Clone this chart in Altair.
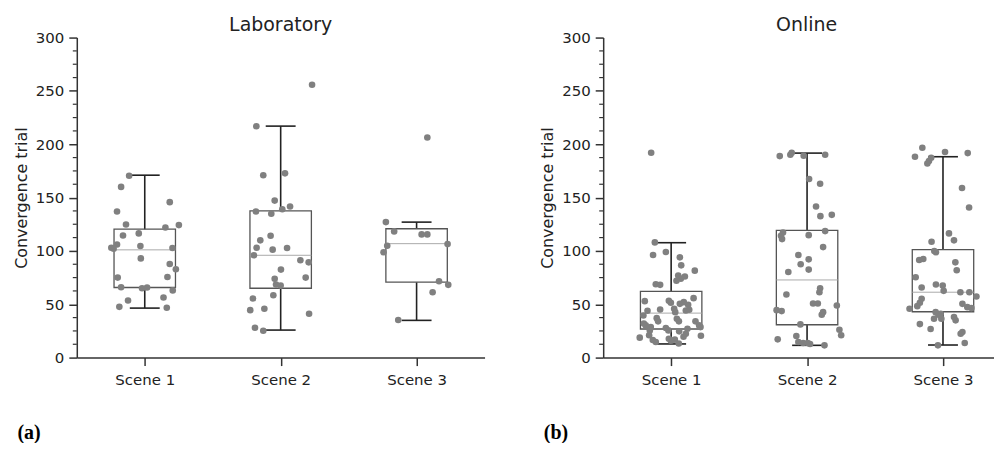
import altair as alt
import pandas as pd

scenes = ["Scene 1", "Scene 2", "Scene 3"]

# ---------------- Laboratory ----------------
lab_s1_values = [170.5, 160, 137, 145.7, 124.8, 124.2, 122, 114.5, 116.4, 103, 102, 106, 104.6, 102.7,
                 93, 87.8, 82.8, 75, 75.6, 66, 65, 65.7, 63, 53.5, 56.3, 47.6, 46.7]
lab_s1_jitter = [-0.115, -0.174, -0.204, 0.184, -0.138, 0.251, 0.152, -0.160, -0.044, -0.246, -0.229,
                 -0.204, -0.032, 0.204, -0.029, 0.184, 0.229, -0.199, 0.167, -0.174, -0.020, 0.017,
                 0.206, -0.123, 0.138, -0.187, 0.162]
lab_s2_values = [255.8, 216.9, 170.9, 172.7, 147.2, 141.6, 139.1, 137, 134.8, 114.2, 109.9, 103, 101.2,
                 102.7, 95.9, 91.2, 89.3, 82.5, 73.8, 75, 68.5, 67.5, 58.5, 55.4, 44.5, 45.8, 41.1, 28, 25.2]
lab_s2_jitter = [0.231, -0.179, -0.128, 0.032, -0.044, 0.069, 0.012, -0.182, -0.069, -0.074, -0.150,
                 -0.177, -0.059, 0.047, -0.197, 0.145, 0.206, 0.002, -0.044, 0.184, -0.034, 0.0,
                 -0.054, -0.204, -0.224, -0.120, 0.209, -0.189, -0.128]
lab_s3_values = [206.3, 127, 118.3, 115.5, 115.5, 104.9, 106.4, 98.7, 71.6, 68.2, 61.3, 35.2]
lab_s3_jitter = [0.079, -0.226, -0.165, 0.037, 0.079, -0.216, 0.228, -0.243, 0.165, 0.233, 0.118, -0.135]

lab_q1 = [65.7, 65.0, 70.7]
lab_median = [101.0, 95.9, 106.8]
lab_q3 = [120.4, 137.6, 120.8]
lab_low = [46.4, 25.8, 34.9]
lab_high = [171.0, 217.0, 127.0]

# ---------------- Online ----------------
onl_s1_values = [192, 108, 96.2, 99, 94, 86.5, 81.5, 77, 76, 74, 72, 68.8, 68.2, 52.9, 53.2, 51.4, 50.4,
                 52, 49.5, 55.7, 45.1, 43.9, 45.8, 42.6, 44.2, 44.8, 39.5, 37, 34, 36.4, 34, 34, 32,
                 30.2, 28.6, 25.5, 27.7, 25.5, 24.6, 27.1, 30.2, 28.6, 18.7, 20.9, 16.5, 14.6, 17.7,
                 15.9, 13.2, 16.8, 19.6, 22.4, 20.5]
onl_s1_jitter = [-0.147, -0.120, -0.133, -0.039, 0.064, 0.074, 0.174, 0.052, 0.101, 0.071, 0.039,
                 -0.113, -0.081, -0.194, -0.017, -0.002, 0.064, 0.093, 0.125, 0.165, -0.081, -0.174,
                 0.022, 0.030, 0.108, 0.133, -0.204, -0.106, -0.096, 0.042, 0.057, 0.179, -0.201,
                 -0.187, -0.150, -0.157, -0.039, -0.020, 0.059, 0.120, 0.206, 0.216, -0.231, -0.162,
                 -0.135, -0.113, -0.017, -0.002, 0.056, 0.027, 0.091, 0.108, 0.219]
onl_s2_values = [188.9, 190.2, 192, 189.2, 190.2, 167.4, 163, 141.6, 132.6, 133.8, 117.3, 114.2, 111.1,
                 114.8, 118.6, 103.6, 96.2, 92.1, 87.5, 82.5, 80.3, 65, 61.3, 59.1, 50.7, 50.7, 48.9,
                 44.5, 43.6, 42.6, 40.2, 31.1, 26.1, 20.9, 17.1, 20.2, 14.6, 13.7, 13.7, 12.8, 11.5]
onl_s2_jitter = [-0.201, -0.123, -0.113, -0.025, 0.133, 0.015, 0.096, 0.066, 0.098, 0.182, -0.177,
                 -0.192, -0.184, 0.012, 0.133, 0.118, -0.064, 0.012, -0.047, 0.012, -0.138, 0.096,
                 0.091, -0.152, 0.044, 0.079, 0.219, -0.224, -0.187, 0.118, 0.108, -0.049, 0.238,
                 0.251, -0.216, -0.079, -0.064, -0.029, 0.005, 0.022, 0.128]
onl_s3_values = [196.7, 188.3, 187.4, 184.3, 182, 192.7, 191.7, 159, 140.7, 116.4, 109.9, 108.6, 99.9,
                 98.7, 91.5, 92.4, 89.3, 81.9, 75.3, 65.7, 68.5, 67.5, 62.6, 61.3, 61.3, 57.3, 55.1,
                 51.4, 50.4, 47.3, 46.4, 45.8, 48.2, 42.6, 40.2, 36.4, 36.4, 41, 38, 34.9, 31.4, 26.8,
                 24, 22.4, 11.5, 13.7]
onl_s3_jitter = [-0.152, -0.206, -0.087, -0.103, -0.115, 0.015, 0.182, 0.140, 0.192, 0.044, 0.081,
                 -0.084, -0.064, -0.052, -0.175, -0.145, 0.091, 0.101, -0.201, -0.157, -0.052, -0.002,
                 0.005, 0.128, 0.194, 0.246, -0.157, -0.170, 0.143, 0.179, 0.209, -0.246, -0.189,
                 -0.054, -0.034, -0.012, -0.066, -0.017, 0.081, 0.093, -0.170, -0.091, 0.143, 0.130,
                 -0.037, 0.160]

onl_q1 = [26.8, 30.8, 43.0]
onl_median = [41.7, 72.8, 61.3]
onl_q3 = [62.0, 119.2, 101.2]
onl_low = [12.8, 11.5, 11.8]
onl_high = [107.7, 191.7, 188.3]

y_major_ticks = [0, 50, 100, 150, 200, 250, 300]
y_minor_ticks = [12.5, 25, 37.5, 62.5, 75, 87.5, 112.5, 125, 137.5, 162.5, 175, 187.5,
                 212.5, 225, 237.5, 262.5, 275, 287.5]

FONT = "DejaVu Sans"
POINT_GREY = "#808080"
DARK = "#222222"
BOX_HALF = 0.226   # half box width, in category units
CAP_HALF = 0.11    # half whisker-cap width, in category units

label_expr = "[" + ",".join("'%s'" % s for s in scenes) + "][datum.value - 1]"
scene_pos = list(range(1, len(scenes) + 1))


def points_frame(groups):
    rows = []
    for pos, (vals, jit) in zip(scene_pos, groups):
        for v, j in zip(vals, jit):
            rows.append({"pos": pos, "value": v, "jitter": j})
    return pd.DataFrame(rows)


def box_frame(q1, med, q3, lo, hi):
    return pd.DataFrame({"pos": scene_pos, "q1": q1, "median": med, "q3": q3, "lo": lo, "hi": hi})


def make_panel(pts, box, title, tag, width, x_max, title_dx):
    x_scale = alt.Scale(domain=[0.5, x_max], nice=False, zero=False)
    x_axis = alt.Axis(
        values=scene_pos, labelExpr=label_expr, labelAngle=0, tickSize=8, labelPadding=7,
        tickWidth=1.5, domainWidth=1.5, grid=False,
        title=tag, titleFont="Liberation Serif", titleFontWeight="bold", titleFontSize=20,
        titleColor="#000000", titleX=-60, titleY=75, titleAlign="left", titleBaseline="middle",
        titleAnchor="start",
    )

    def x_enc(field):
        return alt.X(field, scale=x_scale, axis=x_axis)

    def y_enc(field):
        return alt.Y(
            field,
            scale=alt.Scale(domain=[0, 300], nice=False, zero=True),
            axis=alt.Axis(
                title="Convergence trial", values=y_major_ticks, tickSize=8, labelPadding=5,
                tickWidth=1.5, domainWidth=1.5, titleFontSize=16, titleFontWeight="normal",
                titlePadding=6, titleFont=FONT, titleColor=DARK, grid=False,
            ),
        )

    base = alt.Chart(box).transform_calculate(
        box_l="datum.pos - %f" % BOX_HALF,
        box_r="datum.pos + %f" % BOX_HALF,
        cap_l="datum.pos - %f" % CAP_HALF,
        cap_r="datum.pos + %f" % CAP_HALF,
    )

    whisker = base.mark_rule(color=DARK, strokeWidth=1.6).encode(
        x=x_enc("pos:Q"), y=y_enc("lo:Q"), y2="hi:Q"
    )
    boxes = base.mark_rect(fill="white", stroke="#555555", strokeWidth=1.3).encode(
        x=x_enc("box_l:Q"), x2="box_r:Q", y=y_enc("q1:Q"), y2="q3:Q"
    )
    cap_lo = base.mark_rule(color=DARK, strokeWidth=1.6).encode(
        x=x_enc("cap_l:Q"), x2="cap_r:Q", y=y_enc("lo:Q")
    )
    cap_hi = base.mark_rule(color=DARK, strokeWidth=1.6).encode(
        x=x_enc("cap_l:Q"), x2="cap_r:Q", y=y_enc("hi:Q")
    )
    median = base.mark_rule(color="#aaaaaa", strokeWidth=1).encode(
        x=x_enc("box_l:Q"), x2="box_r:Q", y=y_enc("median:Q")
    )
    points = alt.Chart(pts).transform_calculate(
        xj="datum.pos + datum.jitter"
    ).mark_circle(size=44, color=POINT_GREY, opacity=1).encode(
        x=x_enc("xj:Q"), y=y_enc("value:Q")
    )
    minor = alt.Chart(pd.DataFrame({"tick": y_minor_ticks})).mark_rule(
        color="#333333", strokeWidth=1.2
    ).encode(y=y_enc("tick:Q"), x=alt.value(-4), x2=alt.value(0))

    return alt.layer(whisker, boxes, cap_lo, cap_hi, median, points, minor).properties(
        width=width,
        height=321,
        title=alt.TitleParams(
            title, font=FONT, fontSize=19, fontWeight="normal", color=DARK,
            anchor="middle", frame="group", offset=-4, dx=title_dx,
        ),
    )


lab_pts = points_frame([(lab_s1_values, lab_s1_jitter), (lab_s2_values, lab_s2_jitter),
                        (lab_s3_values, lab_s3_jitter)])
onl_pts = points_frame([(onl_s1_values, onl_s1_jitter), (onl_s2_values, onl_s2_jitter),
                        (onl_s3_values, onl_s3_jitter)])

left = make_panel(lab_pts, box_frame(lab_q1, lab_median, lab_q3, lab_low, lab_high),
                  "Laboratory", "(a)", 409, 3.5, 0)
right = make_panel(onl_pts, box_frame(onl_q1, onl_median, onl_q3, onl_low, onl_high),
                   "Online", "(b)", 392, 0.5 + 392 / (409 / 3.0), 8)

chart = alt.hconcat(left, right, spacing=55).properties(
    padding={"left": 5, "top": 7, "right": 0, "bottom": 0}
).configure_view(stroke=None).configure_axis(
    grid=False, domainColor="#333333", tickColor="#333333", labelFont=FONT,
    labelFontSize=15, labelColor=DARK,
)

chart.save("out.html", embed_options={"renderer": "svg", "actions": False})
